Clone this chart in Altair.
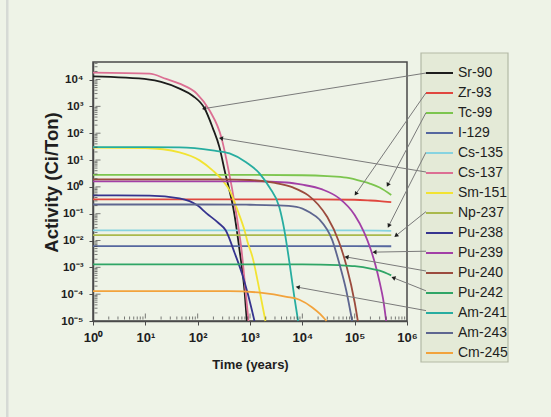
import math
import altair as alt
import pandas as pd

FONT = "Liberation Sans"

# ---------------------------------------------------------------- data
isotopes = ["Sr-90", "Zr-93", "Tc-99", "I-129", "Cs-135", "Cs-137", "Sm-151",
            "Np-237", "Pu-238", "Pu-239", "Pu-240", "Pu-242", "Am-241",
            "Am-243", "Cm-245"]
colors = ["#1c1c1c", "#e0473f", "#7cc54e", "#55679f", "#86d3e0", "#dc6f93",
          "#f2e332", "#a9b94c", "#36348f", "#a23fa6", "#9b4b3e", "#2fa566",
          "#27ada0", "#5e6690", "#f2a33c"]

# time (years) / activity (Ci/Ton) for each nuclide
sr90_t = [1, 12, 20, 45, 80, 136, 193, 262, 327, 507, 631, 785, 870]
sr90_a = [1.3e4, 1.0e4, 8.2e3, 4.6e3, 2.5e3, 830, 162, 29, 4.1, 0.087, 4.4e-3, 1.4e-4, 1e-5]

zr93_t = [1, 1e4, 1e5, 2e5, 3e5, 5e5]
zr93_a = [0.34, 0.34, 0.33, 0.31, 0.295, 0.27]

tc99_t = [1, 1e3, 1e4, 3e4, 7e4, 1.4e5, 2e5, 3e5, 5e5]
tc99_a = [2.8, 2.8, 2.7, 2.5, 2.2, 1.6, 1.3, 0.95, 0.5]

i129_t = [1, 1e3, 1e5, 5e5]
i129_a = [6.2e-3, 6.2e-3, 6.2e-3, 6.1e-3]

cs135_t = [1, 1e3, 1e5, 5e5]
cs135_a = [0.024, 0.024, 0.024, 0.023]

cs137_t = [1, 12, 25, 45, 96, 169, 287, 357, 553, 689, 821, 936]
cs137_a = [1.8e4, 1.65e4, 1.05e4, 7.0e3, 3.0e3, 700, 64, 9.7, 0.087, 4.4e-3, 1.4e-4, 1e-5]

sm151_t = [1, 10, 45, 109, 193, 299, 407, 578, 785, 896, 1116, 1518, 1974]
sm151_a = [29, 28, 19.2, 9.7, 4.1, 1.75, 0.74, 0.134, 0.024, 9e-3, 2.4e-3, 1.4e-4, 1e-5]

np237_t = [1, 1e3, 1e5, 5e5]
np237_a = [0.016, 0.016, 0.016, 0.016]

pu238_t = [1, 12, 45, 100, 148, 250, 343, 507, 700, 900, 1218]
pu238_a = [0.48, 0.47, 0.37, 0.2, 0.103, 0.045, 0.024, 3.5e-3, 6e-4, 1.1e-4, 1e-5]

pu239_t = [1, 1e3, 5e3, 1e4, 2.4e4, 5e4, 1e5, 1.5e5, 2e5, 2.5e5, 3e5, 3.5e5, 4e5]
pu239_a = [1.6, 1.6, 1.45, 1.2, 0.8, 0.38, 0.09, 0.021, 5e-3, 1.2e-3, 2.8e-4, 6.5e-5, 1e-5]

pu240_t = [1, 300, 1e3, 3e3, 6.6e3, 1.3e4, 2e4, 3e4, 5e4, 7e4, 1e5, 1.15e5]
pu240_a = [1.9, 1.9, 1.8, 1.4, 0.95, 0.48, 0.22, 0.075, 9e-3, 1.1e-3, 5e-5, 1e-5]

pu242_t = [1, 1e4, 5e4, 1e5, 2e5, 3e5, 5e5]
pu242_a = [1.3e-3, 1.3e-3, 1.2e-3, 1.1e-3, 9e-4, 7.5e-4, 5e-4]

am241_t = [1, 10, 45, 193, 407, 857, 1515, 2350, 3650, 4540, 5650, 7040, 8300]
am241_a = [30, 30, 29.4, 22.7, 17.6, 8.1, 3.2, 0.96, 0.17, 0.024, 1.6e-3, 7.8e-5, 1e-5]

am243_t = [1, 100, 1e3, 3e3, 7.7e3, 1.4e4, 2.1e4, 3.73e4, 5.07e4, 6.89e4, 8.96e4]
am243_a = [0.22, 0.22, 0.215, 0.205, 0.18, 0.11, 0.062, 0.0103, 1.43e-3, 1.4e-4, 1e-5]

cm245_t = [1, 100, 400, 1700, 5000, 8800, 1.55e4, 2.2e4, 2.9e4]
cm245_a = [1.3e-4, 1.3e-4, 1.3e-4, 1.12e-4, 8e-5, 6.2e-5, 3.2e-5, 1.8e-5, 1e-5]

series = {
    "Sr-90": (sr90_t, sr90_a), "Zr-93": (zr93_t, zr93_a), "Tc-99": (tc99_t, tc99_a),
    "I-129": (i129_t, i129_a), "Cs-135": (cs135_t, cs135_a), "Cs-137": (cs137_t, cs137_a),
    "Sm-151": (sm151_t, sm151_a), "Np-237": (np237_t, np237_a), "Pu-238": (pu238_t, pu238_a),
    "Pu-239": (pu239_t, pu239_a), "Pu-240": (pu240_t, pu240_a), "Pu-242": (pu242_t, pu242_a),
    "Am-241": (am241_t, am241_a), "Am-243": (am243_t, am243_a), "Cm-245": (cm245_t, cm245_a),
}

# callout arrows: nuclide, arrow tip (time, activity)
arrow_names = ["Sr-90", "Zr-93", "Tc-99", "Cs-135", "Cs-137", "Np-237",
               "Pu-239", "Pu-240", "Pu-242", "Am-241"]
arrow_tip_t = [136, 1.07e5, 4.35e5, 4.54e5, 287, 6.3e5, 2.46e5, 7.2e4, 5.65e5, 8.4e3]
arrow_tip_a = [830, 0.57, 1.24, 0.037, 64, 0.0157, 3.7e-3, 2.4e-3, 4e-4, 1.8e-4]

x_ticks = [1, 10, 100, 1e3, 1e4, 1e5, 1e6]
x_tick_labels = ["10⁰", "10¹", "10²", "10³", "10⁴", "10⁵", "10⁶"]
y_ticks = [1e-5, 1e-4, 1e-3, 1e-2, 1e-1, 1, 10, 100, 1e3, 1e4]
y_tick_labels = ["10⁻⁵", "10⁻⁴", "10⁻³", "10⁻²", "10⁻¹", "10⁰", "10¹", "10²", "10³", "10⁴"]

# ---------------------------------------------------------------- layout
W, H = 314, 259
LEFT, TOP = 93, 62
X_DOMAIN = [1, 1e6]
Y_DOMAIN = [1e-5, 4.5e4]
BOX = (328, -9, 415, 300)             # legend frame x, y, x2, y2 (relative to the plot)
ROW0, ROW_STEP = 11, 19.8             # legend row centres (relative to the plot)
SYMBOL_LEFT = 333                     # left end of the legend stroke symbols


def px(t):
    lo, hi = math.log10(X_DOMAIN[0]), math.log10(X_DOMAIN[1])
    return W * (math.log10(t) - lo) / (hi - lo)


def py(a):
    lo, hi = math.log10(Y_DOMAIN[0]), math.log10(Y_DOMAIN[1])
    return H * (1 - (math.log10(a) - lo) / (hi - lo))


rows = []
for name, (ts, vals) in series.items():
    for i, (t, v) in enumerate(zip(ts, vals)):
        rows.append({"isotope": name, "time": t, "activity": v, "order": i})
df = pd.DataFrame(rows)

x_scale = alt.Scale(type="log", domain=X_DOMAIN, nice=False)
y_scale = alt.Scale(type="log", domain=Y_DOMAIN, nice=False)


def label_expr(labels, lowest):
    arr = ",".join("'%s'" % s for s in labels)
    return "[%s][round(log(datum.value) / LN10) - (%d)]" % (arr, lowest)


x_axis = alt.Axis(values=x_ticks, labelExpr=label_expr(x_tick_labels, 0),
                  title="Time (years)", grid=False, tickSize=4, labelPadding=6,
                  titlePadding=14, labelFlush=False, labelFontSize=13)
y_axis = alt.Axis(values=y_ticks, labelExpr=label_expr(y_tick_labels, -5),
                  title="Activity (Ci/Ton)", grid=False, tickSize=4, labelPadding=6,
                  labelFontSize=11.5, titleFontSize=18.5, titleX=-32, titleY=120)

x_enc = alt.X("time:Q", scale=x_scale, axis=x_axis)
y_enc = alt.Y("activity:Q", scale=y_scale, axis=y_axis)

# page edge stripe and legend frame, drawn beneath everything
edge = alt.Chart(pd.DataFrame({"k": [0]})).mark_rect(fill="#d6dad5").encode(
    x=alt.value(-LEFT + 6), x2=alt.value(-LEFT + 8.5), y=alt.value(-TOP), y2=alt.value(417 - TOP))
frame = alt.Chart(pd.DataFrame({"k": [0]})).mark_rect(
    fill="#e4ead7", stroke="#b3b9a6", strokeWidth=1.2).encode(
    x=alt.value(BOX[0]), x2=alt.value(BOX[2]), y=alt.value(BOX[1]), y2=alt.value(BOX[3]))

lines = alt.Chart(df).mark_line(strokeWidth=1.8, interpolate="monotone").encode(
    x=x_enc, y=y_enc,
    color=alt.Color("isotope:N", scale=alt.Scale(domain=isotopes, range=colors),
                    title=None,
                    legend=alt.Legend(orient="none", legendX=SYMBOL_LEFT - 1,
                                      legendY=ROW0 - ROW_STEP / 2,
                                      symbolType="stroke", symbolSize=729,
                                      symbolStrokeWidth=2, labelFont=FONT,
                                      labelFontSize=14, labelColor="#1e1e1e",
                                      labelOffset=4, padding=0, rowPadding=0,
                                      clipHeight=ROW_STEP, labelLimit=200)),
    order="order:Q",
)

# minor / inner tick marks along the two axes
minor_x = [k * 10 ** d for d in range(6) for k in range(1, 10)][1:]
minor_y = [k * 10.0 ** d for d in range(-5, 5) for k in range(1, 10)
           if k * 10.0 ** d <= Y_DOMAIN[1]][1:]
tick_x = alt.Chart(pd.DataFrame({"time": minor_x,
                                 "len": [5 if (math.log10(v) % 1) < 1e-9 else 3 for v in minor_x]})
                   ).mark_tick(orient="vertical", thickness=1, color="#444").encode(
    x=alt.X("time:Q", scale=x_scale), y=alt.datum(1e-5),
    size=alt.Size("len:Q", scale=None),
    yOffset=alt.YOffset("len:Q", scale=alt.Scale(domain=[0, 10], range=[0, -10])),
)
tick_y = alt.Chart(pd.DataFrame({"activity": minor_y,
                                 "len": [5 if abs(math.log10(v) - round(math.log10(v))) < 1e-9 else 3
                                         for v in minor_y]})
                   ).mark_tick(orient="horizontal", thickness=1, color="#444").encode(
    y=alt.Y("activity:Q", scale=y_scale), x=alt.datum(1),
    size=alt.Size("len:Q", scale=None),
    xOffset=alt.XOffset("len:Q", scale=alt.Scale(domain=[0, 10], range=[0, 10])),
)

# callout arrows from the legend rows to the curves
rules = []
heads = []
for name, t, a in zip(arrow_names, arrow_tip_t, arrow_tip_a):
    row = isotopes.index(name)
    tail_x, tail_y = SYMBOL_LEFT, ROW0 + ROW_STEP * row
    rules.append(
        alt.Chart(pd.DataFrame({"time": [t], "activity": [a]})).mark_rule(
            color="#7a7a7a", strokeWidth=1).encode(
            x=alt.X("time:Q", scale=x_scale), y=alt.Y("activity:Q", scale=y_scale),
            x2=alt.value(tail_x), y2=alt.value(tail_y))
    )
    dx, dy = px(t) - tail_x, py(a) - tail_y
    heads.append({"time": t, "activity": a,
                  "angle": math.degrees(math.atan2(dx, -dy)) % 360})

head_layer = alt.Chart(pd.DataFrame(heads)).mark_point(
    shape="triangle", filled=True, size=22, color="#1e1e1e", opacity=1).encode(
    x=alt.X("time:Q", scale=x_scale), y=alt.Y("activity:Q", scale=y_scale),
    angle=alt.Angle("angle:Q", scale=None))

chart = alt.layer(edge, frame, lines, tick_x, tick_y, *rules, head_layer).properties(
    width=W, height=H,
    padding={"left": LEFT, "top": TOP, "right": 551 - LEFT - W, "bottom": 417 - TOP - H},
    autosize=alt.AutoSizeParams(type="none"),
).configure(background="#eef3e7").configure_view(
    stroke="#4a4a4a", strokeWidth=1.5
).configure_axis(
    domainColor="#4a4a4a", domainWidth=1.5, tickColor="#4a4a4a",
    labelFont=FONT, labelFontWeight="bold", labelColor="#1e1e1e",
    titleFont=FONT, titleFontSize=13, titleFontWeight="bold", titleColor="#1e1e1e",
)

chart.save("out.html", embed_options={"renderer": "svg", "actions": False})
